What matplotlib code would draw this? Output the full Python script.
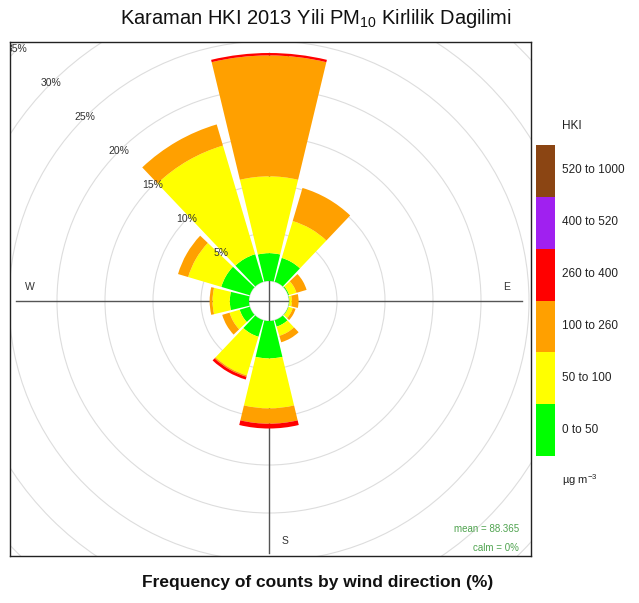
import numpy as np
import matplotlib.pyplot as plt
from matplotlib.patches import Wedge, Circle

plt.rcParams['font.family'] = ['Liberation Sans', 'DejaVu Sans']
plt.rcParams['mathtext.default'] = 'regular'

# wind directions (degrees from north), 30 degree sectors
directions = [0, 30, 60, 90, 120, 150, 180, 210, 240, 270, 300, 330]

# HKI (PM10) bins and their colours
bin_labels = ["0 to 50", "50 to 100", "100 to 260", "260 to 400", "400 to 520", "520 to 1000"]
bin_colors = ["#00ff00", "#ffff00", "#ffa000", "#ff0000", "#a020f0", "#8b4513"]

# frequency (%) of each bin per direction
freq_0_50 = [2.9, 2.6, 0.1, 0.05, 0.05, 0.7, 3.9, 1.8, 1.1, 2.0, 3.1, 3.0]
freq_50_100 = [8.0, 4.0, 0.8, 0.25, 0.45, 1.0, 5.2, 4.2, 1.1, 1.8, 3.6, 11.8]
freq_100_260 = [12.6, 3.6, 1.1, 0.7, 0.3, 0.7, 1.6, 0.15, 0.8, 0.3, 1.1, 2.3]
freq_260_400 = [0.25, 0, 0, 0, 0, 0, 0.5, 0.3, 0, 0, 0, 0]
freq_400_520 = [0] * 12
freq_520_1000 = [0] * 12

ring_levels = [5, 10, 15, 20, 25, 30, 35]
mean_value = 88.365
calm_value = 0

freqs = np.array([freq_0_50, freq_50_100, freq_100_260,
                  freq_260_400, freq_400_520, freq_520_1000])

k = 9.6          # pixels per percent
off = 20 / k     # inner calm circle
half = 13.5      # half width of a sector in degrees

fig = plt.figure(figsize=(6.39, 6.03), dpi=100)
ax = fig.add_axes([10 / 639, 1 - 556 / 603, 521 / 639, 514 / 603])
ax.set_xlim(-259 / k, 262 / k)
ax.set_ylim(-255 / k, 259 / k)
ax.set_xticks([])
ax.set_yticks([])
for s in ax.spines.values():
    s.set_color('#222222')
    s.set_linewidth(1.0)

# grid rings
for p in [0] + ring_levels:
    ax.add_patch(Circle((0, 0), off + p, fill=False, ec='#dddddd', lw=0.8, zorder=1))
for p in ring_levels:
    r = off + p
    ax.text(-r * np.sin(np.pi / 4), r * np.cos(np.pi / 4), f"{p}%",
            ha='center', va='center', fontsize=7.5, color='#333333', zorder=6, clip_on=True)

# axis lines
ax.plot([-253 / k, 253 / k], [0, 0], color='#555555', lw=1.0, zorder=1.5)
ax.plot([0, 0], [-252 / k, 248 / k], color='#555555', lw=1.0, zorder=1.5)

# compass labels
ax.text(-239 / k, 14 / k, "W", ha='center', va='center', fontsize=7.5, color='#333333', zorder=1.6)
ax.text(238 / k, 14 / k, "E", ha='center', va='center', fontsize=7.5, color='#333333', zorder=1.6)
ax.text(16 / k, -240 / k, "S", ha='center', va='center', fontsize=7.5, color='#333333', zorder=1.6)
ax.text(16 / k, 240 / k, "N", ha='center', va='center', fontsize=7.5, color='#333333', zorder=1.6)

# stacked sectors
cum = np.cumsum(freqs, axis=0)
for j, d in enumerate(directions):
    mid = 90 - d
    base = 0.0
    for i in range(len(bin_labels)):
        top = cum[i, j]
        if top - base > 0:
            ax.add_patch(Wedge((0, 0), off + top, mid - half, mid + half,
                               width=top - base, fc=bin_colors[i], ec='none', lw=0, zorder=3))
        base = top

ax.text(0.977, 0.052, f"mean = {mean_value}", transform=ax.transAxes, ha='right', va='center',
        fontsize=7, color='#4fa34f')
ax.text(0.977, 0.015, f"calm = {calm_value}%", transform=ax.transAxes, ha='right', va='center',
        fontsize=7, color='#4fa34f')

# colour key
cax = fig.add_axes([536 / 639, 1 - 456 / 603, 19 / 639, 311 / 603])
cax.bar(0, 1, bottom=np.arange(len(bin_labels)), color=bin_colors, width=1, align='edge')
cax.set_xlim(0, 1)
cax.set_ylim(0, len(bin_labels))
cax.axis('off')
for i, lab in enumerate(bin_labels):
    fig.text(562 / 639, 1 - (456 - 52 * (i + 0.5)) / 603, lab,
             ha='left', va='center', fontsize=8.5, color='#222222')
fig.text(562 / 639, 1 - 126 / 603, "HKI", ha='left', va='center', fontsize=8.5, color='#222222')
fig.text(562 / 639, 1 - 480 / 603, "µg m$^{-3}$", ha='left', va='center', fontsize=8, color='#222222')

fig.text(316 / 639, 1 - 18 / 603, "Karaman HKI 2013 Yili PM$_{10}$ Kirlilik Dagilimi",
         ha='center', va='center', fontsize=14.5, color='#111111')
fig.text(318 / 639, 1 - 583 / 603, "Frequency of counts by wind direction (%)",
         ha='center', va='center', fontsize=12.5, fontweight='bold', color='#111111')

fig.savefig("out.png", dpi=100)
